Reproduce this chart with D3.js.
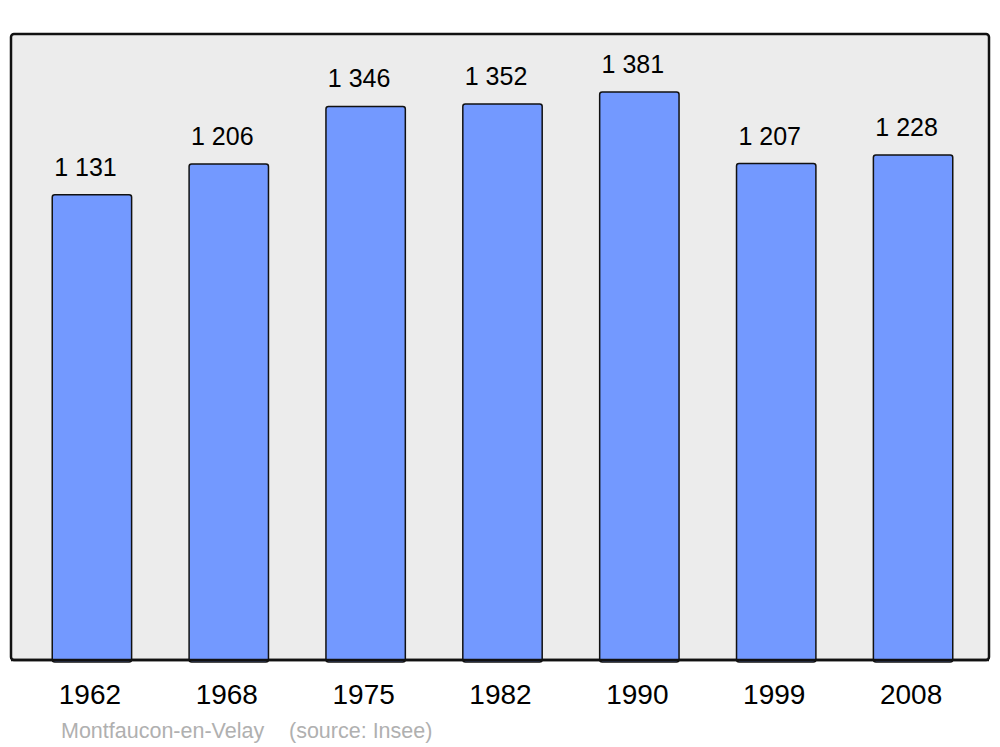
<!DOCTYPE html>
<html><head><meta charset="utf-8">
<script src="https://cdn.jsdelivr.net/npm/d3@7"></script>
<style>html,body{margin:0;padding:0;background:#fff;}svg{display:block;font-family:"Liberation Sans",Arial,sans-serif;}</style>
</head><body>
<svg id="c" width="1000" height="747"></svg>
<script>
const years = ["1962","1968","1975","1982","1990","1999","2008"];
const population = [1131,1206,1346,1352,1381,1207,1228];
const valueLabels = ["1 131","1 206","1 346","1 352","1 381","1 207","1 228"];
const footerLabels = ["Montfaucon-en-Velay","(source: Insee)"];

const svg = d3.select("#c");
const frame = {x0: 11, x1: 989, y0: 34, y1: 660};

svg.append("rect").attr("x", frame.x0).attr("y", frame.y0)
  .attr("width", frame.x1 - frame.x0).attr("height", frame.y1 - frame.y0)
  .attr("rx", 3).attr("fill", "#ececec").attr("stroke", "#111").attr("stroke-width", 2.5);

const x = d3.scaleBand().domain(years).range([23.5, 981.5]).paddingInner(0.42).paddingOuter(0.21);
const y = d3.scaleLinear().domain([0, 1522]).range([frame.y1, frame.y0]);

const g = svg.append("g");
g.selectAll("rect.bar").data(years).join("rect").attr("class","bar")
  .attr("x", d => x(d)).attr("width", x.bandwidth())
  .attr("y", (d,i) => y(population[i])).attr("height", (d,i) => frame.y1 - y(population[i]) + 2)
  .attr("rx", 2.5).attr("fill", "#7399ff").attr("stroke", "#111").attr("stroke-width", 1.5);

g.selectAll("text.val").data(years).join("text").attr("class","val")
  .attr("x", d => x(d) + x.bandwidth()/2 - 6.5).attr("y", (d,i) => y(population[i]) - 19)
  .attr("text-anchor", "middle").attr("font-size", 25).attr("fill", "#000")
  .text((d,i) => valueLabels[i]);

svg.append("line").attr("x1", frame.x0).attr("x2", frame.x1).attr("y1", frame.y1).attr("y2", frame.y1)
  .attr("stroke", "#111").attr("stroke-width", 2.5);

const axis = d3.axisBottom(x).tickSize(0).tickPadding(0);
const ag = svg.append("g").attr("transform", `translate(-2,${frame.y1})`).call(axis);
ag.select(".domain").remove();
ag.selectAll("text").attr("font-size", 28).attr("fill", "#000")
  .attr("font-family", '"Liberation Sans",Arial,sans-serif').attr("dy", null).attr("y", 44);

svg.append("text").attr("x", 61).attr("y", 738).attr("font-size", 21.5).attr("fill", "#b0b0b0")
  .text(footerLabels[0]);
svg.append("text").attr("x", 289).attr("y", 738).attr("font-size", 21.5).attr("fill", "#b0b0b0")
  .text(footerLabels[1]);
</script>
</body></html>
